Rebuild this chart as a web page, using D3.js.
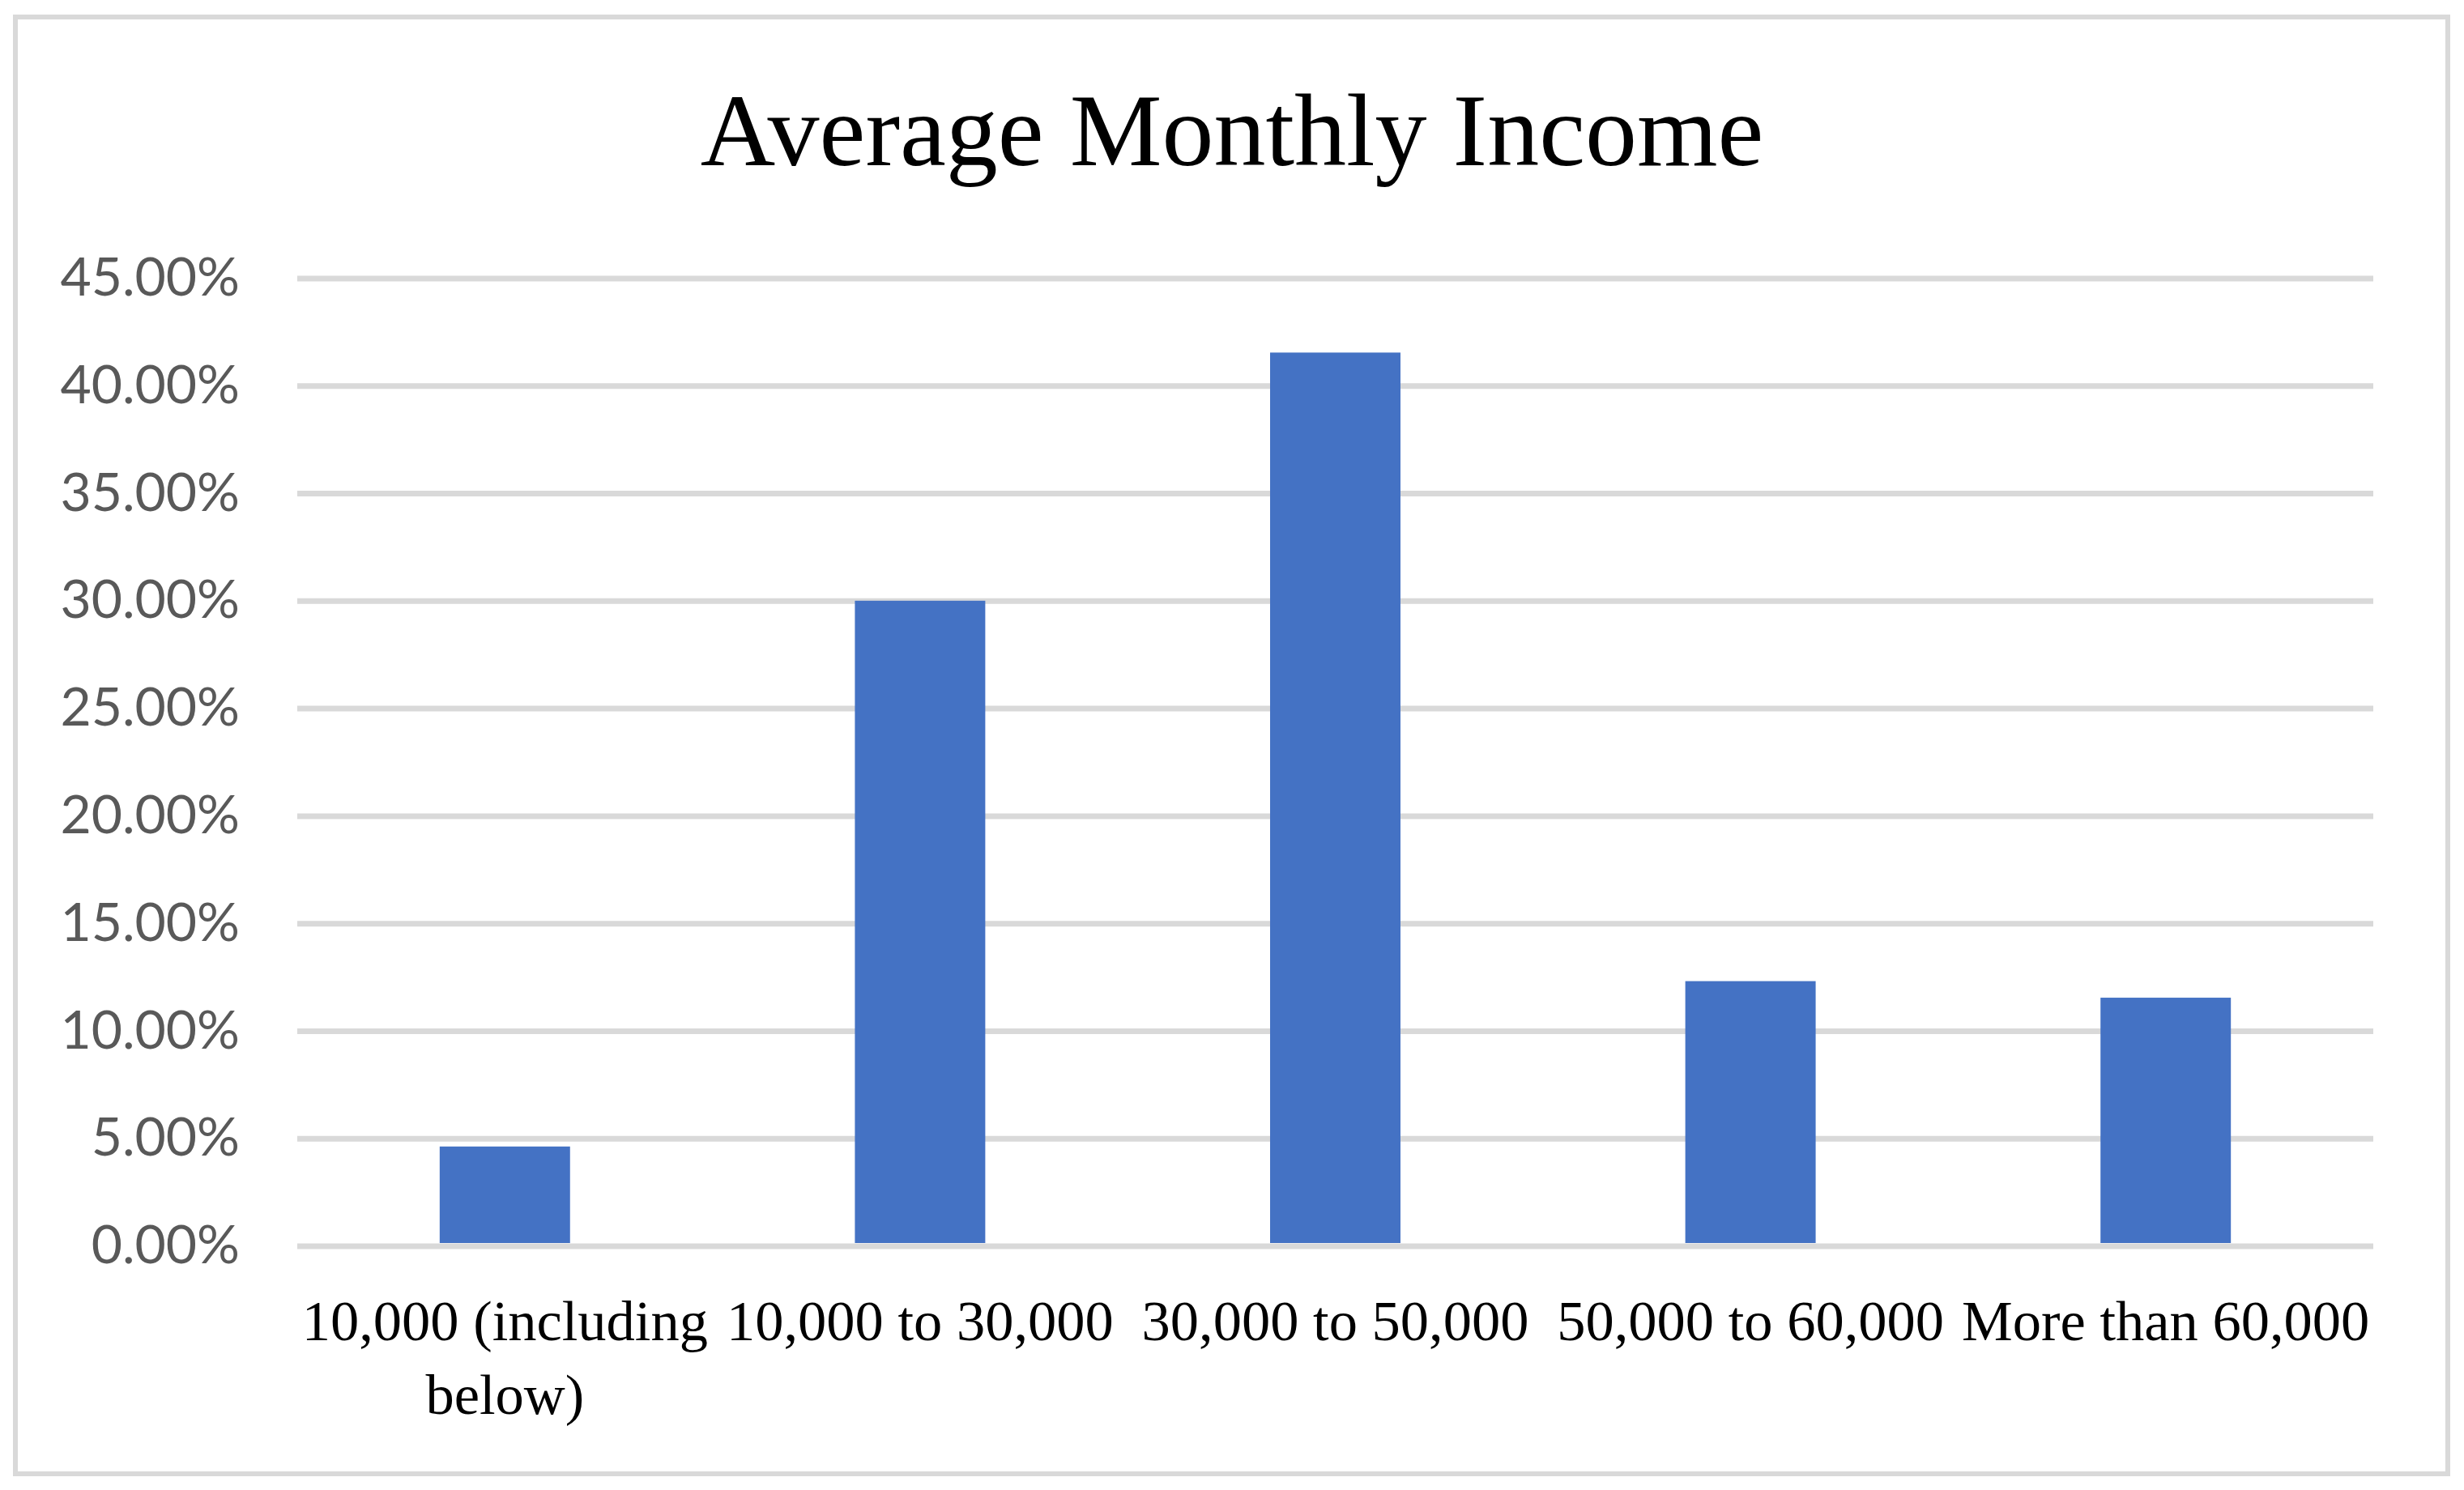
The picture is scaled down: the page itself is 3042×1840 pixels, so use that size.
<!DOCTYPE html>
<html>
<head>
<meta charset="utf-8">
<script src="https://cdn.jsdelivr.net/npm/d3@7/dist/d3.min.js"></script>
<style>
  html, body { margin: 0; padding: 0; background: #ffffff; }
  svg { display: block; }
</style>
</head>
<body>
<svg id="chart" width="3042" height="1840"></svg>
<script>
// ---- data ----
const title = "Average Monthly Income";
const categories = ["10,000 (including below)", "10,000 to 30,000", "30,000 to 50,000", "50,000 to 60,000", "More than 60,000"];
const values = [0.0462, 0.3000, 0.4154, 0.1231, 0.1154];
const yTicks = [0, 0.05, 0.10, 0.15, 0.20, 0.25, 0.30, 0.35, 0.40, 0.45];

// ---- layout ----
const W = 3042, H = 1840;
const plot = { left: 367, right: 2930, top: 343.5, bottom: 1538.5 };

const svg = d3.select("#chart");

// outer border
svg.append("rect")
  .attr("x", 19).attr("y", 21)
  .attr("width", 3022 - 19).attr("height", 1820 - 21)
  .attr("fill", "#ffffff")
  .attr("stroke", "#d9d9d9")
  .attr("stroke-width", 6);

const x = d3.scaleBand()
  .domain(categories)
  .range([plot.left, plot.right])
  .paddingInner(0.686)
  .paddingOuter(0.343);

const y = d3.scaleLinear()
  .domain([0, 0.45])
  .range([plot.bottom, plot.top]);

// y axis with gridlines
const yAxis = d3.axisLeft(y)
  .tickValues(yTicks)
  .tickFormat(d3.format(".2%"))
  .tickSize(-(plot.right - plot.left))
  .tickPadding(71);

const gy = svg.append("g")
  .attr("transform", `translate(${plot.left},0)`)
  .call(yAxis);
gy.select(".domain").remove();
gy.selectAll(".tick line")
  .attr("stroke", "#d9d9d9")
  .attr("stroke-width", 7);
gy.selectAll(".tick text")
  .attr("fill", "#595959")
  .style("font-family", "Lato, 'Noto Sans', sans-serif")
  .style("font-size", "66px");

// bars
svg.append("g").selectAll("rect")
  .data(values)
  .join("rect")
  .attr("x", (d, i) => x(categories[i]))
  .attr("width", x.bandwidth())
  .attr("y", d => y(d))
  .attr("height", d => y(0) - y(d) - 3.5)
  .attr("fill", "#4472c4");

// x category labels (wrapped to band step)
const step = x.step();
const gx = svg.append("g");
const fontX = "70.5px 'Liberation Serif', 'Times New Roman', serif";
const measureCtx = document.createElement("canvas").getContext("2d");
measureCtx.font = fontX;
function wrap(text, maxW) {
  const words = text.split(" ");
  const lines = [];
  let cur = "";
  words.forEach(w => {
    const t = cur ? cur + " " + w : w;
    if (measureCtx.measureText(t).width > maxW && cur) { lines.push(cur); cur = w; }
    else cur = t;
  });
  if (cur) lines.push(cur);
  return lines;
}
categories.forEach(c => {
  const lines = wrap(c, step * 1.1);
  const t = gx.append("text")
    .attr("x", x(c) + x.bandwidth() / 2)
    .attr("y", 1655)
    .attr("text-anchor", "middle")
    .attr("fill", "#000000")
    .style("font-family", "'Liberation Serif', 'Times New Roman', serif")
    .style("font-size", "70.5px");
  lines.forEach((ln, i) => {
    t.append("tspan")
      .attr("x", x(c) + x.bandwidth() / 2)
      .attr("dy", i === 0 ? 0 : 91)
      .text(ln);
  });
});

// title
svg.append("text")
  .attr("x", W / 2)
  .attr("y", 204)
  .attr("text-anchor", "middle")
  .attr("fill", "#000000")
  .style("font-family", "'Liberation Serif', 'Times New Roman', serif")
  .style("font-size", "128px")
  .text(title);
</script>
</body>
</html>
